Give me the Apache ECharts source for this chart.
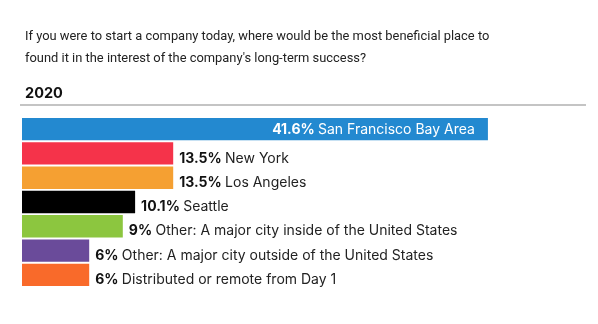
<!DOCTYPE html>
<html><head><meta charset="utf-8">
<script src="https://cdn.jsdelivr.net/npm/echarts@6/dist/echarts.min.js"></script>
<style>html,body{margin:0;padding:0;background:#fff}#c{width:598px;height:324px}</style>
</head><body><div id="c"></div>
<script>
const categories = ["San Francisco Bay Area","New York","Los Angeles","Seattle","Other: A major city inside of the United States","Other: A major city outside of the United States","Distributed or remote from Day 1"];
const values = [41.6, 13.5, 13.5, 10.1, 9, 6, 6];
const valueLabels = ["41.6%","13.5%","13.5%","10.1%","9%","6%","6%"];
const colors = ["#2389d0","#f5334a","#f5a032","#000000","#8cc63f","#6a4b9a","#f96a2a"];

const chart = echarts.init(document.getElementById('c'), null, {renderer:'canvas'});
const FONT = 'Inter, "Noto Sans", sans-serif';
const TFONT = 'Roboto, "Noto Sans", sans-serif';
const data = values.map((v,i)=>({
  value: v,
  itemStyle: {color: colors[i]},
  label: i===0 ? {position:'insideRight', distance:13, offset:[0,1], rich:{b:{color:'#fff',fontWeight:'bold',fontSize:14,fontFamily:FONT},n:{color:'#fff',fontSize:14,fontFamily:FONT}}} : {}
}));
chart.setOption({
  animation:false,
  title:[{
    text:"If you were to start a company today, where would be the most beneficial place to\nfound it in the interest of the company's long-term success?",
    left:20, top:21,
    textStyle:{fontFamily:TFONT,fontSize:12.9,fontWeight:'normal',color:'#222',lineHeight:22}
  },{
    text:"2020", left:20, top:81,
    textStyle:{fontFamily:FONT,fontSize:14.5,fontWeight:'bold',color:'#111'}
  }],
  graphic:[{type:'line',shape:{x1:20,y1:105,x2:586,y2:105},style:{stroke:'#c4c4c4',lineWidth:2}}],
  grid:{left:22,right:16,top:117,bottom:37},
  xAxis:{type:'value',min:0,max:50,show:false},
  yAxis:{type:'category',data:categories,inverse:true,show:false},
  series:[{
    type:'bar',
    data:data,
    barCategoryGap:'8%',
    label:{
      show:true, position:'right', distance:6, offset:[0,5],
      formatter:(p)=>'{b|'+valueLabels[p.dataIndex]+'} {n|'+categories[p.dataIndex]+'}',
      rich:{b:{color:'#111',fontWeight:'bold',fontSize:14,fontFamily:FONT},n:{color:'#222',fontSize:14,fontFamily:FONT}}
    }
  }]
});
</script></body></html>
